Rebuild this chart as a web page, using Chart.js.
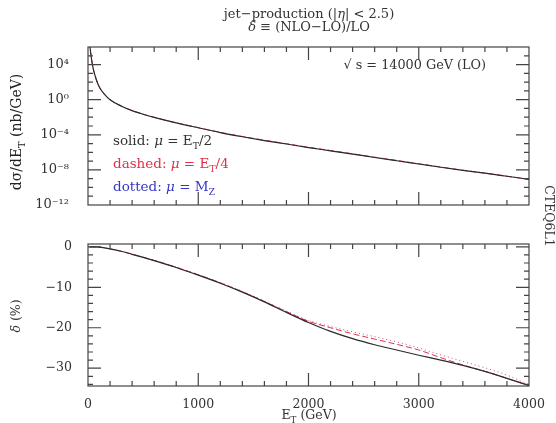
<!DOCTYPE html>
<html>
<head>
<meta charset="utf-8">
<script src="https://cdn.jsdelivr.net/npm/chart.js@4.4.1/dist/chart.umd.min.js"></script>
<style>
  html, body { margin: 0; padding: 0; background: #fff; }
  #wrap { position: relative; width: 556px; height: 423px; }
  #wrap canvas { position: absolute; left: 0; top: 0; }
</style>
</head>
<body>
<div id="wrap">
  <canvas id="xsecChart" width="556" height="423"></canvas>
  <canvas id="deltaChart" width="556" height="423"></canvas>
</div>
<script>
// --- Data ---
const etGeV = [15, 20, 30, 40, 50, 75, 100, 150, 200, 300, 400, 500, 600, 800, 1000,
  1200, 1400, 1600, 1800, 2000, 2200, 2400, 2600, 2800, 3000, 3200, 3400, 3600, 3800, 4000];

// d sigma / d E_T  (nb/GeV)
const xsecSolid = [4e6, 6.3e5, 6.3e4, 1.0e4, 2.5e3, 2.0e2, 32, 4.0, 1.0, 0.19, 0.056, 0.022, 9.8e-3, 2.3e-3, 6.3e-4,
  1.8e-4, 6.0e-5, 2.2e-5, 8.9e-6, 3.5e-6, 1.5e-6, 6.3e-7, 2.6e-7, 1.1e-7, 4.7e-8, 2.0e-8, 8.9e-9, 4.2e-9, 1.9e-9, 8.5e-10];
const xsecDashed = [4.1e6, 6.4e5, 6.4e4, 1.0e4, 2.5e3, 2.0e2, 32, 4.0, 1.0, 0.19, 0.056, 0.022, 9.9e-3, 2.3e-3, 6.5e-4,
  1.9e-4, 6.4e-5, 2.4e-5, 9.6e-6, 3.8e-6, 1.6e-6, 6.8e-7, 2.8e-7, 1.2e-7, 5.0e-8, 2.1e-8, 9.2e-9, 4.3e-9, 1.9e-9, 8.5e-10];
const xsecDotted = [4.1e6, 6.4e5, 6.4e4, 1.0e4, 2.5e3, 2.0e2, 32, 4.0, 1.0, 0.19, 0.056, 0.022, 9.9e-3, 2.3e-3, 6.4e-4,
  1.9e-4, 6.3e-5, 2.3e-5, 9.4e-6, 3.7e-6, 1.6e-6, 6.7e-7, 2.8e-7, 1.2e-7, 5.0e-8, 2.1e-8, 9.1e-9, 4.3e-9, 1.9e-9, 8.6e-10];

// delta = (NLO-LO)/LO in %
const deltaSolid = [0, 0, 0, 0, 0, -0.02, -0.05, -0.25, -0.5, -1.1, -1.85, -2.6, -3.4, -5.1, -7.0,
  -9.0, -11.2, -13.6, -16.2, -18.7, -20.9, -22.7, -24.2, -25.5, -26.8, -28.0, -29.3, -30.8, -32.5, -34.3];
const deltaDashed = [0, 0, 0, 0, 0, -0.02, -0.05, -0.25, -0.5, -1.1, -1.8, -2.55, -3.35, -5.05, -6.9,
  -8.9, -11.1, -13.5, -16.0, -18.4, -20.0, -21.5, -22.8, -24.1, -25.5, -27.4, -29.2, -30.8, -32.5, -34.3];
const deltaDotted = [0, 0, 0, 0, 0, -0.02, -0.05, -0.25, -0.5, -1.1, -1.8, -2.55, -3.3, -5.0, -6.85,
  -8.85, -11.0, -13.4, -15.9, -18.2, -19.7, -21.0, -22.2, -23.5, -25.0, -26.7, -28.3, -29.9, -31.7, -34.1];

const xTickLabels = [0, 1000, 2000, 3000, 4000];
const xsecTickExponents = [-12, -8, -4, 0, 4];
const deltaTickLabels = [-30, -20, -10, 0];

// --- Styling helpers ---
const SERIF = "'DejaVu Serif', serif";
const INK = '#333';
const RED = '#e0304a';
const PINK = '#c84a8a';
const BLUE = '#3535c8';

const SUP = { '0': '\u2070', '1': '\u00b9', '2': '\u00b2', '4': '\u2074', '8': '\u2078', '-': '\u207b' };
function sup(n) { return String(n).split('').map(c => SUP[c] || c).join(''); }

function pts(ys) { return etGeV.map((x, i) => ({ x: x, y: ys[i] })); }

function lineSet(label, ys, color, dash, width) {
  return {
    label: label, data: pts(ys), borderColor: color, borderWidth: width, borderDash: dash,
    pointRadius: 0, fill: false, cubicInterpolationMode: 'monotone'
  };
}

// draw text made of pieces (italic / subscript)
function rich(ctx, parts, x, y, size, color, align) {
  const fonts = parts.map(p => (p.i ? 'italic ' : '') + (p.s ? size * 0.7 : size) + 'px ' + SERIF);
  let w = 0;
  parts.forEach((p, k) => { ctx.font = fonts[k]; w += ctx.measureText(p.t).width; });
  let cx = align === 'center' ? x - w / 2 : (align === 'right' ? x - w : x);
  ctx.fillStyle = color;
  ctx.textAlign = 'left';
  ctx.textBaseline = 'alphabetic';
  parts.forEach((p, k) => {
    ctx.font = fonts[k];
    ctx.fillText(p.t, cx, y + (p.s ? size * 0.3 : 0));
    cx += ctx.measureText(p.t).width;
  });
}

// frame with inward tick marks on all four sides
const frameTicks = {
  id: 'frameTicks',
  afterDraw(chart, args, o) {
    const ctx = chart.ctx, a = chart.chartArea;
    const x = chart.scales.x, y = chart.scales.y;
    ctx.save();
    ctx.strokeStyle = '#444';
    ctx.lineWidth = 1.2;
    ctx.strokeRect(a.left, a.top, a.right - a.left, a.bottom - a.top);
    ctx.beginPath();
    o.xTicks.forEach(t => {
      const px = x.getPixelForValue(t.v), len = t.major ? 13 : 5;
      ctx.moveTo(px, a.bottom); ctx.lineTo(px, a.bottom - len);
      ctx.moveTo(px, a.top); ctx.lineTo(px, a.top + len);
    });
    o.yTicks.forEach(t => {
      const py = y.getPixelForValue(t.v), len = t.major ? 13 : 5;
      ctx.moveTo(a.left, py); ctx.lineTo(a.left + len, py);
      ctx.moveTo(a.right, py); ctx.lineTo(a.right - len, py);
    });
    ctx.stroke();
    ctx.restore();
  }
};

const xTicks = [];
for (let v = 200; v < 4000; v += 200) xTicks.push({ v: v, major: v % 1000 === 0 });

const xsecTicks = [];
for (let e = -11; e < 6; e++) xsecTicks.push({ v: Number('1e' + e), major: e % 4 === 0 });

const deltaTicks = [];
for (let v = -34; v <= 0; v += 2) deltaTicks.push({ v: v, major: v % 10 === 0 });

// --- Top panel texts ---
const topTexts = {
  id: 'topTexts',
  afterDraw(chart) {
    const ctx = chart.ctx;
    ctx.save();
    rich(ctx, [{ t: 'jet\u2212production (|' }, { t: '\u03b7', i: true }, { t: '| < 2.5)' }], 309, 18, 13, INK, 'center');
    rich(ctx, [{ t: '\u03b4', i: true }, { t: ' \u2261 (NLO\u2212LO)/LO' }], 309, 31, 13, INK, 'center');
    rich(ctx, [{ t: '\u221a s = 14000 GeV (LO)' }], 486, 69, 12.8, INK, 'right');

    rich(ctx, [{ t: 'solid: ' }, { t: '\u03bc', i: true }, { t: ' = E' }, { t: 'T', s: true }, { t: '/2' }], 113, 145, 13.5, INK, 'left');
    rich(ctx, [{ t: 'dashed: ' }, { t: '\u03bc', i: true }, { t: ' = E' }, { t: 'T', s: true }, { t: '/4' }], 113, 168, 13.5, RED, 'left');
    rich(ctx, [{ t: 'dotted: ' }, { t: '\u03bc', i: true }, { t: ' = M' }, { t: 'Z', s: true }], 113, 191, 13.5, BLUE, 'left');

    ctx.save();
    ctx.translate(21, 132);
    ctx.rotate(-Math.PI / 2);
    rich(ctx, [{ t: 'd\u03c3/dE' }, { t: 'T', s: true }, { t: ' (nb/GeV)' }], 0, 0, 14, '#222', 'center');
    ctx.restore();

    ctx.save();
    ctx.translate(545, 216);
    ctx.rotate(Math.PI / 2);
    rich(ctx, [{ t: 'CTEQ6L1' }], 0, 0, 12.5, INK, 'center');
    ctx.restore();
    ctx.restore();
  }
};

const bottomTexts = {
  id: 'bottomTexts',
  afterDraw(chart) {
    const ctx = chart.ctx;
    ctx.save();
    rich(ctx, [{ t: 'E' }, { t: 'T', s: true }, { t: ' (GeV)' }], 309, 419, 12.5, INK, 'center');
    ctx.save();
    ctx.translate(20, 316);
    ctx.rotate(-Math.PI / 2);
    rich(ctx, [{ t: '\u03b4', i: true }, { t: ' (%)' }], 0, 0, 12.5, INK, 'center');
    ctx.restore();
    ctx.restore();
  }
};

// --- Top chart: cross section ---
new Chart(document.getElementById('xsecChart'), {
  type: 'line',
  data: {
    datasets: [
      lineSet('solid', xsecSolid, '#2a2a2a', [], 1.2),
      lineSet('dashed', xsecDashed, RED, [6, 3], 1),
      lineSet('dotted', xsecDotted, PINK, [1, 3], 1)
    ]
  },
  options: {
    responsive: false,
    animation: false,
    layout: { padding: { left: 0, top: 47, right: 27, bottom: 218 } },
    plugins: {
      legend: { display: false },
      tooltip: { enabled: false },
      frameTicks: { xTicks: xTicks, yTicks: xsecTicks }
    },
    scales: {
      x: {
        type: 'linear', min: 0, max: 4000,
        grid: { display: false }, border: { display: false },
        ticks: { display: false },
        afterFit: s => { s.height = 0; }
      },
      y: {
        type: 'logarithmic', min: 1e-12, max: 1e6,
        grid: { display: false }, border: { display: false },
        afterBuildTicks: s => { s.ticks = xsecTickExponents.map(e => ({ value: Number('1e' + e) })); },
        ticks: {
          autoSkip: false, padding: 11, color: INK,
          font: { family: SERIF, size: 13 },
          callback: v => '10' + sup(Math.round(Math.log10(v)))
        },
        afterFit: s => { s.width = 88; }
      }
    }
  },
  plugins: [frameTicks, topTexts]
});

// --- Bottom chart: delta ---
new Chart(document.getElementById('deltaChart'), {
  type: 'line',
  data: {
    datasets: [
      lineSet('solid', deltaSolid, '#2a2a2a', [], 1.2),
      lineSet('dashed', deltaDashed, RED, [6, 3], 1),
      lineSet('dotted', deltaDotted, PINK, [1, 3], 1)
    ]
  },
  options: {
    responsive: false,
    animation: false,
    layout: { padding: { left: 0, top: 244, right: 27, bottom: 0 } },
    plugins: {
      legend: { display: false },
      tooltip: { enabled: false },
      frameTicks: { xTicks: xTicks, yTicks: deltaTicks }
    },
    scales: {
      x: {
        type: 'linear', min: 0, max: 4000,
        grid: { display: false }, border: { display: false },
        afterBuildTicks: s => { s.ticks = xTickLabels.map(v => ({ value: v })); },
        ticks: {
          autoSkip: false, maxRotation: 0, padding: 3, color: INK,
          font: { family: SERIF, size: 12.5 },
          callback: v => String(v)
        },
        afterFit: s => { s.height = 37; }
      },
      y: {
        type: 'linear', min: -34.4, max: 0.7,
        grid: { display: false }, border: { display: false },
        afterBuildTicks: s => { s.ticks = deltaTickLabels.map(v => ({ value: v })); },
        ticks: {
          autoSkip: false, padding: 8, color: INK,
          font: { family: SERIF, size: 12.5 },
          callback: v => v < 0 ? '\u2212' + (-v) : String(v)
        },
        afterFit: s => { s.width = 88; }
      }
    }
  },
  plugins: [frameTicks, bottomTexts]
});
</script>
</body>
</html>
